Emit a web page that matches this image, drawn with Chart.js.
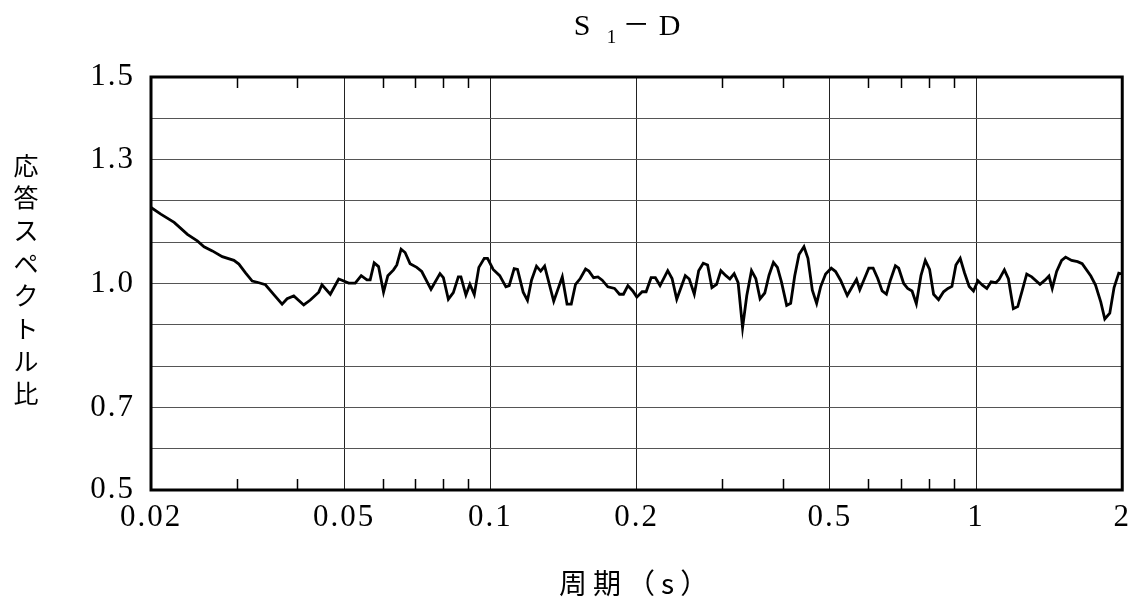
<!DOCTYPE html>
<html lang="ja">
<head>
<meta charset="utf-8">
<title>S1-D 応答スペクトル比</title>
<script src="https://cdn.jsdelivr.net/npm/chart.js@4.4.1/dist/chart.umd.min.js"></script>
<style>
  html, body { margin: 0; padding: 0; background: #ffffff; }
  #wrap { width: 1139px; height: 612px; }
</style>
</head>
<body>
<div id="wrap"><canvas id="c" width="1139" height="612"></canvas></div>
<script>
// ---- text ----
const TITLE = 'S₁－D';
const X_TITLE = '周期（s）';
const Y_TITLE = '応答スペクトル比';

// ---- axis ticks ----
const xMajorTicks = [0.02, 0.05, 0.1, 0.2, 0.5, 1, 2];
const xMinorTicks = [0.03, 0.04, 0.06, 0.07, 0.08, 0.09, 0.3, 0.4, 0.6, 0.7, 0.8, 0.9];
const yLabelTicks = [0.5, 0.7, 1.0, 1.3, 1.5];

// ---- data: period (s) and spectrum ratio ----
const periods = [
  0.02, 0.02095, 0.02232, 0.02377, 0.02491, 0.02572, 0.02675, 0.02804, 0.02963, 0.03034,
  0.03131, 0.03232, 0.03309, 0.03441, 0.03581, 0.03724, 0.03813, 0.03936, 0.04126, 0.04257,
  0.04430, 0.04499, 0.04680, 0.04870, 0.04946, 0.05105, 0.05267, 0.05419, 0.05567, 0.05654,
  0.05762, 0.05883, 0.06024, 0.06148, 0.06316, 0.06415, 0.06547, 0.06672, 0.06831, 0.07051,
  0.07220, 0.07544, 0.07872, 0.08000, 0.08191, 0.08387, 0.08588, 0.08694, 0.08902, 0.09072,
  0.09263, 0.09466, 0.09711, 0.09864, 0.1013, 0.1045, 0.1076, 0.1093, 0.1119, 0.1137,
  0.1168, 0.1192, 0.1215, 0.1244, 0.1269, 0.1293, 0.1350, 0.1406, 0.1438, 0.1467,
  0.1497, 0.1531, 0.1570, 0.1595, 0.1631, 0.1665, 0.1699, 0.1745, 0.1801, 0.1844,
  0.1879, 0.1919, 0.1964, 0.2002, 0.2053, 0.2092, 0.2142, 0.2186, 0.2235, 0.2318,
  0.2366, 0.2419, 0.2519, 0.2567, 0.2629, 0.2684, 0.2743, 0.2800, 0.2858, 0.2922,
  0.2982, 0.3054, 0.3112, 0.3176, 0.3236, 0.3305, 0.3372, 0.3448, 0.3519, 0.3591,
  0.3672, 0.3747, 0.3826, 0.3899, 0.3974, 0.4074, 0.4152, 0.4232, 0.4319, 0.4422,
  0.4506, 0.4601, 0.4696, 0.4785, 0.4900, 0.5033, 0.5137, 0.5260, 0.5429, 0.5532,
  0.5673, 0.5762, 0.5872, 0.6013, 0.6139, 0.6274, 0.6406, 0.6537, 0.6662, 0.6821,
  0.6929, 0.7095, 0.7230, 0.7382, 0.7534, 0.7703, 0.7861, 0.8023, 0.8176, 0.8371,
  0.8572, 0.8752, 0.8919, 0.9089, 0.9276, 0.9466, 0.9679, 0.9878, 1.0086, 1.0307,
  1.0524, 1.0740, 1.0982, 1.1154, 1.1437, 1.1656, 1.1934, 1.2185, 1.2453, 1.2715,
  1.3019, 1.3541, 1.3864, 1.4129, 1.4351, 1.4653, 1.5003, 1.5290, 1.5730, 1.6182,
  1.6538, 1.7233, 1.7620, 1.8067, 1.8412, 1.8852, 1.9239, 1.9672, 2.0
];
const ratios = [
  1.184, 1.168, 1.148, 1.119, 1.103, 1.089, 1.079, 1.065, 1.056, 1.047,
  1.026, 1.006, 1.003, 0.997, 0.973, 0.950, 0.963, 0.970, 0.948, 0.960,
  0.979, 0.997, 0.974, 1.011, 1.008, 1.001, 1.001, 1.019, 1.009, 1.009,
  1.050, 1.041, 0.979, 1.019, 1.033, 1.045, 1.083, 1.075, 1.048, 1.039,
  1.029, 0.986, 1.024, 1.014, 0.962, 0.978, 1.016, 1.016, 0.972, 0.998,
  0.973, 1.039, 1.061, 1.061, 1.034, 1.019, 0.992, 0.995, 1.036, 1.034,
  0.979, 0.959, 1.008, 1.042, 1.030, 1.042, 0.957, 1.016, 0.950, 0.950,
  0.998, 1.012, 1.035, 1.030, 1.014, 1.016, 1.008, 0.992, 0.988, 0.974,
  0.974, 0.995, 0.982, 0.967, 0.980, 0.980, 1.014, 1.014, 0.995, 1.031,
  1.012, 0.962, 1.019, 1.011, 0.974, 1.031, 1.049, 1.045, 0.990, 0.998,
  1.031, 1.019, 1.011, 1.024, 1.002, 0.893, 0.971, 1.031, 1.012, 0.963,
  0.977, 1.020, 1.051, 1.039, 1.004, 0.947, 0.952, 1.018, 1.070, 1.089,
  1.061, 0.984, 0.952, 0.992, 1.023, 1.037, 1.029, 1.008, 0.971, 0.988,
  1.010, 0.985, 1.008, 1.037, 1.037, 1.012, 0.982, 0.974, 1.008, 1.043,
  1.037, 1.000, 0.988, 0.982, 0.951, 1.020, 1.056, 1.034, 0.974, 0.961,
  0.980, 0.988, 0.993, 1.045, 1.061, 1.026, 0.993, 0.982, 1.007, 0.996,
  0.988, 1.004, 1.002, 1.010, 1.033, 1.012, 0.939, 0.944, 0.984, 1.023,
  1.016, 0.998, 1.008, 1.018, 0.988, 1.029, 1.056, 1.064, 1.056, 1.053,
  1.048, 1.018, 0.996, 0.955, 0.914, 0.928, 0.990, 1.025, 1.023
];

const SERIF = '"Liberation Serif", "DejaVu Serif", "Noto Sans CJK JP", serif';
const CJK = '"Noto Sans CJK JP", "Noto Sans CJK SC", sans-serif';

const near = (a, b) => Math.abs(a - b) < 1e-9 * Math.max(1, Math.abs(b));

// letter spacing / typesetting for the widely-spaced labels of the original
const spacingPlugin = {
  id: 'spacing',
  beforeInit(chart) {
    const ctx = chart.ctx;
    const orig = ctx.fillText.bind(ctx);
    ctx.fillText = function (text, x, y, maxWidth) {
      const s = String(text);
      if (s === TITLE) {
        // "S", subscript "1", full-width dash, "D" as in the original heading
        ctx.save();
        ctx.letterSpacing = '0px';
        ctx.textAlign = 'left';
        ctx.textBaseline = 'alphabetic';
        const x0 = x - 63;
        const base = y + 10;
        ctx.font = '30px ' + SERIF;
        orig('S', x0, base);
        ctx.font = '19px ' + SERIF;
        orig('1', x0 + 33, base + 8);
        ctx.font = '27px ' + CJK;
        ctx.textBaseline = 'middle';
        orig('－', x0 + 49, base - 11);
        ctx.textBaseline = 'alphabetic';
        ctx.font = '30px ' + SERIF;
        orig('D', x0 + 85, base);
        ctx.restore();
        return;
      }
      let ls = '0px';
      if (/^[0-9.]+$/.test(s)) ls = '2px';
      else if (s === X_TITLE) ls = '6px';
      const prev = ctx.letterSpacing;
      ctx.letterSpacing = ls;
      orig(text, x, y);
      ctx.letterSpacing = prev;
    };
  }
};

// frame, inner minor ticks and vertical y title
const framePlugin = {
  id: 'frame',
  afterDraw(chart) {
    const ctx = chart.ctx;
    const { left, right, top, bottom } = chart.chartArea;
    const xs = chart.scales.x;
    ctx.save();
    ctx.strokeStyle = '#000';
    ctx.lineWidth = 1.5;
    ctx.beginPath();
    for (const v of xMinorTicks) {
      const px = Math.round(xs.getPixelForValue(v)) + 0.5;
      ctx.moveTo(px, top);
      ctx.lineTo(px, top + 11);
      ctx.moveTo(px, bottom);
      ctx.lineTo(px, bottom - 11);
    }
    ctx.stroke();
    ctx.lineWidth = 3;
    ctx.strokeRect(left, top, right - left, bottom - top);

    // vertical (upright) y-axis title
    ctx.fillStyle = '#000';
    ctx.font = '25px ' + CJK;
    ctx.textAlign = 'center';
    ctx.textBaseline = 'middle';
    const chars = Array.from(Y_TITLE);
    const step = 32.7;
    const cy = (top + bottom) / 2 - 4;
    const y0 = cy - step * (chars.length - 1) / 2;
    chars.forEach((ch, i) => ctx.fillText(ch, 26, y0 + i * step));
    ctx.restore();
  }
};

const chart = new Chart(document.getElementById('c'), {
  type: 'line',
  data: {
    datasets: [{
      label: TITLE,
      data: periods.map((p, i) => ({ x: p, y: ratios[i] })),
      borderColor: '#000000',
      borderWidth: 2.8,
      pointRadius: 0,
      tension: 0,
      fill: false
    }]
  },
  options: {
    responsive: false,
    animation: false,
    events: [],
    layout: { padding: { left: 0, right: 13, top: 0, bottom: 0 } },
    plugins: {
      legend: { display: false },
      tooltip: { enabled: false },
      title: {
        display: true,
        text: TITLE,
        fullSize: false,
        color: '#000',
        font: { family: SERIF, size: 28, weight: 'normal', lineHeight: 1.2 },
        padding: { top: 8, bottom: 35.4 }
      }
    },
    scales: {
      x: {
        type: 'logarithmic',
        min: 0.02,
        max: 2,
        afterBuildTicks(scale) {
          scale.ticks = xMajorTicks.concat(xMinorTicks).sort((a, b) => a - b).map(v => ({ value: v }));
        },
        afterFit(scale) { scale.height = 122; },
        ticks: {
          autoSkip: false,
          maxRotation: 0,
          minRotation: 0,
          padding: 9,
          color: '#000',
          font: { family: SERIF, size: 31 },
          callback(value) {
            return xMajorTicks.some(m => near(m, value)) ? String(value) : '';
          }
        },
        grid: {
          drawTicks: false,
          lineWidth: 1,
          color(ctx) {
            if (!ctx.tick) return 'rgba(0,0,0,0)';
            return xMajorTicks.some(m => near(m, ctx.tick.value)) ? '#222222' : 'rgba(0,0,0,0)';
          }
        },
        border: { display: false },
        title: {
          display: true,
          text: X_TITLE,
          color: '#000',
          font: { family: CJK, size: 28, lineHeight: 1.2 },
          padding: { top: 0, bottom: 12 }
        }
      },
      y: {
        type: 'linear',
        min: 0.5,
        max: 1.5,
        afterFit(scale) { scale.width = 151; },
        ticks: {
          stepSize: 0.1,
          padding: 16,
          color: '#000',
          font: { family: SERIF, size: 31 },
          callback(value) {
            const r = Math.round(value * 10) / 10;
            return yLabelTicks.some(t => near(t, r)) ? r.toFixed(1) : '';
          }
        },
        grid: {
          drawTicks: false,
          lineWidth: 1,
          color: '#555555'
        },
        border: { display: false },
        title: { display: false }
      }
    }
  },
  plugins: [spacingPlugin, framePlugin]
});
</script>
</body>
</html>
